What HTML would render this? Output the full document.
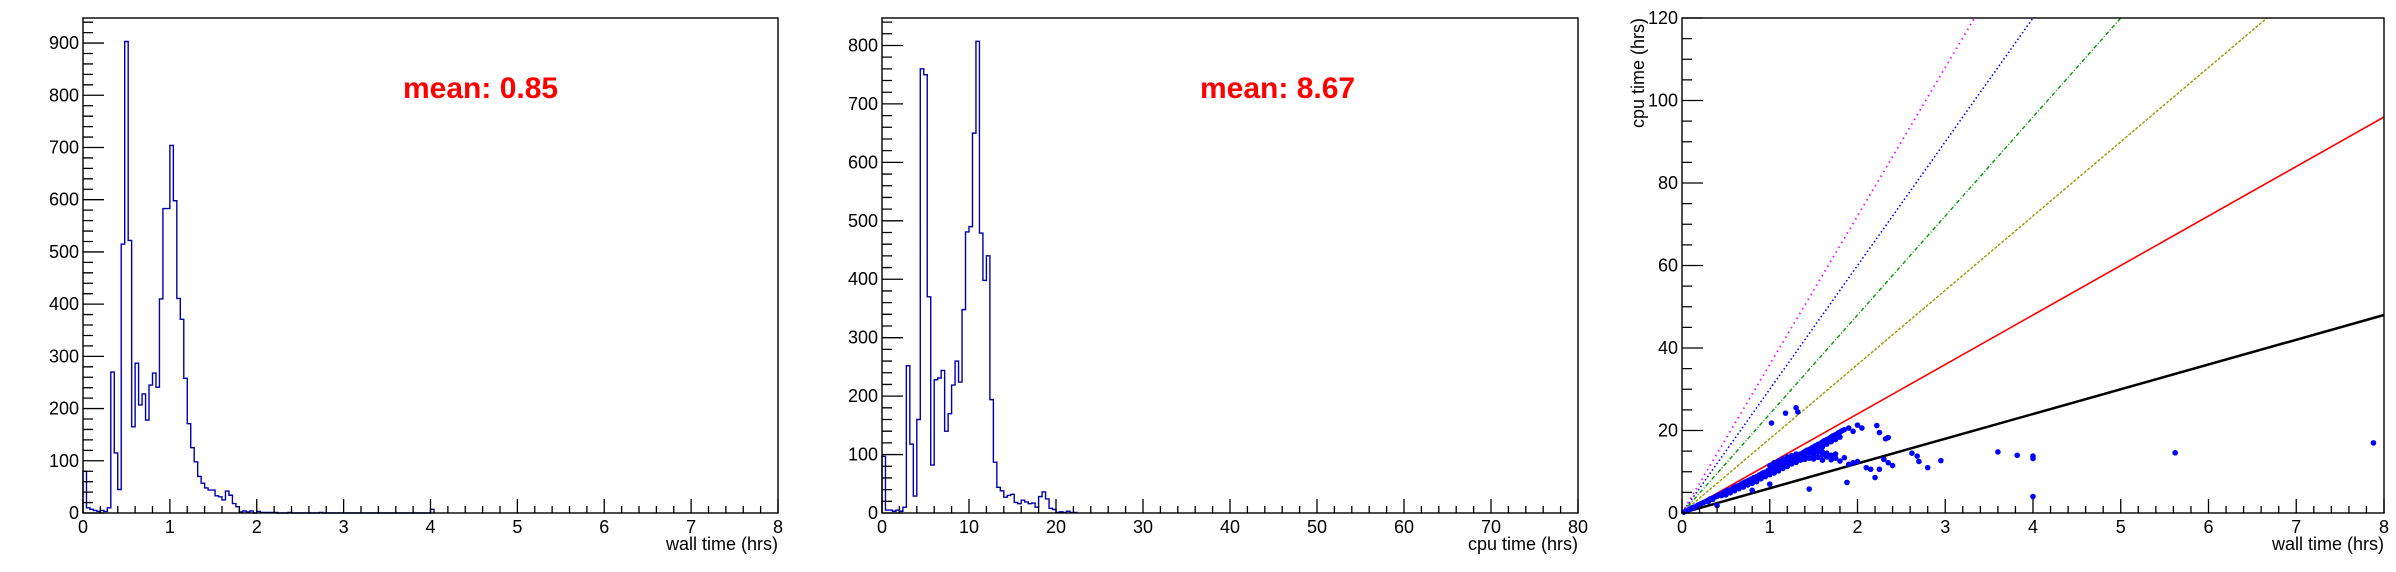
<!DOCTYPE html>
<html><head><meta charset="utf-8"><style>
html,body{margin:0;padding:0;background:#fff;}
svg{display:block;font-family:"Liberation Sans",Arial,sans-serif;}
</style></head><body>
<svg id="s" width="2396" height="572" viewBox="0 0 2396 572" xmlns="http://www.w3.org/2000/svg"></svg>
<script>
// ---- Panel 1: wall time histogram (bins 0.04 h, 0..8) ----
const wallCounts = [80,10,7,5,3,5,3,10,270,115,45,515,903,522,165,287,207,228,178,245,268,241,410,583,583,704,598,411,371,258,171,125,98,70,57,48,44,44,33,31,25,42,34,18,12,2,4,2,4,0,3,1,1,1,1,1,0,0,0,1,0,0,0,0,0,0,0,0,1,0,0,0,0,0,0,0,0,0,0,0,0,0,0,0,0,0,0,0,0,0,0,0,0,0,0,0,0,0,0,0,7];
const wallBinWidth = 0.04;
const wallMean = "mean: 0.85";
const wallXTicks = [0,1,2,3,4,5,6,7,8];
const wallYTicks = [0,100,200,300,400,500,600,700,800,900];
// ---- Panel 2: cpu time histogram (bins 0.4 h, 0..80) ----
const cpuCounts = [97,5,5,3,5,3,10,252,118,29,160,760,750,370,82,228,231,244,140,170,219,260,224,348,481,490,650,807,479,398,440,194,87,44,38,27,30,32,18,16,22,19,16,17,10,28,36,24,8,6,1,2,1,3,1,1];
const cpuBinWidth = 0.4;
const cpuMean = "mean: 8.67";
const cpuXTicks = [0,10,20,30,40,50,60,70,80];
const cpuYTicks = [0,100,200,300,400,500,600,700,800];
// ---- Panel 3: scatter cpu vs wall ----
const scatterWall = [0.02,0.05,0.08,0.1,0.12,0.15,0.18,0.2,0.22,0.25,0.28,0.3,0.32,0.35,0.38,0.4,0.4,0.42,0.45,0.48,0.5,0.5,0.52,0.55,0.55,0.58,0.6,0.6,0.62,0.65,0.65,0.68,0.7,0.7,0.72,0.75,0.75,0.78,0.8,0.8,0.82,0.85,0.85,0.88,0.9,0.9,0.92,0.95,0.95,0.98,1.0,1.0,1.02,1.05,1.05,1.08,1.1,1.1,1.12,1.15,1.15,1.18,1.2,1.2,1.22,1.25,1.25,1.28,1.3,1.3,1.32,1.35,1.35,1.38,1.4,1.4,1.42,1.45,1.45,1.48,1.5,1.5,1.52,1.55,1.55,1.58,1.6,1.6,1.62,1.65,1.65,1.68,1.7,1.7,1.72,1.75,1.75,1.78,1.8,1.8,1.82,1.85,1.85,1.9,1.95,2.0,2.05,2.0,1.9,1.95,2.1,2.15,2.2,2.25,2.22,2.25,2.32,2.35,2.3,2.35,2.4,2.62,2.68,2.7,2.8,2.95,3.6,3.82,4.0,4.0,4.0,5.62,7.88,1.88,1.45,1.3,1.32,1.18,1.02,1.0,0.8,1.1,1.2,1.3,1.4,1.5,1.6,1.25,1.35,1.45,1.55,1.15,0.95,1.05,0.9,
 0.3,0.35,0.45,0.5,0.55,0.6,0.65,0.7,0.75,0.8,0.85,0.9,0.95,1.0,1.05,1.1,1.15,1.2,1.25,1.3,1.35,1.4,1.45,1.5,1.55,1.6,1.65,1.7,1.75,1.8,1.0,1.05,1.1,1.15,1.2,1.25,1.3,1.35,1.4,1.45,1.5,1.55,1.6,1.65,1.7,1.75,1.2,1.3,1.4,1.5,1.6,0.7,0.8,0.9,1.0,1.1,1.2,1.3,1.4,1.5];
const scatterCpu = [0.2,0.5,0.8,1.0,1.3,1.5,1.9,2.1,2.3,2.6,2.9,3.1,3.4,3.6,3.9,4.1,1.8,4.4,4.6,5.0,5.2,4.4,5.5,5.6,4.9,6.0,6.3,5.4,6.5,6.7,5.9,7.1,7.3,6.3,7.5,7.8,6.8,8.1,8.3,7.2,8.6,8.8,7.6,9.2,9.4,8.3,9.7,9.9,8.8,10.3,10.5,9.3,10.8,11.0,9.7,11.4,11.6,10.2,11.9,12.1,10.8,12.5,12.7,11.3,13.0,13.2,11.9,13.6,13.8,12.3,14.1,14.3,12.8,14.6,14.9,13.0,15.2,15.4,13.3,15.8,16.0,13.1,16.3,16.6,13.5,16.9,17.2,12.8,17.5,17.8,13.6,18.1,18.4,12.9,18.7,19.0,13.3,19.4,19.6,12.6,19.9,20.2,13.4,20.6,19.8,21.3,20.6,12.5,11.8,12.2,11.0,10.6,8.6,10.6,21.2,19.5,18.0,18.3,13.0,12.2,11.5,14.5,13.8,12.5,11.0,12.7,14.8,14.0,13.8,13.2,4.0,14.6,17.0,7.4,5.8,25.5,24.5,24.2,21.8,7.0,5.5,11.0,12.0,13.0,14.0,15.0,16.0,12.5,13.5,14.5,15.5,11.5,9.5,10.0,9.0,
 2.8,3.3,4.2,4.7,5.2,5.8,6.2,6.8,7.2,7.8,8.2,8.8,9.2,9.8,10.2,10.8,11.3,11.8,12.4,12.9,13.5,14.0,14.5,15.1,15.6,16.2,16.7,17.3,17.8,18.4,11.5,12.2,12.6,13.1,13.6,13.9,14.3,14.0,14.2,14.6,14.4,14.8,14.1,14.5,14.0,14.3,12.0,12.7,13.4,14.0,14.8,6.9,7.8,8.7,9.6,10.5,11.4,12.3,13.2,14.1];
const refSlopes = [6,12,18,24,30,36];
const refColors = ["#000000","#ff0000","#999900","#009900","#0000ff","#ff00ff"];
const refDash = ["none","none","3,1.5","4,2,1,2","1.5,2.5","1.5,4"];
const refWidths = [2.5,1.6,1.4,1.4,1.6,1.8];
const scXTicks = [0,1,2,3,4,5,6,7,8];
const scYTicks = [0,20,40,60,80,100,120];

const S = document.getElementById('s');
const NS = "http://www.w3.org/2000/svg";
function mk(tag, attrs, parent){ const e=document.createElementNS(NS,tag); for(const k in attrs) e.setAttribute(k,attrs[k]); (parent||S).appendChild(e); return e; }

function panel(cfg){
  const g = mk('g',{});
  
  
  const L=cfg.l,R=cfg.r,T=18,B=513;
  const sx = v => L + (v-cfg.x0)/(cfg.x1-cfg.x0)*(R-L);
  const sy = v => B - (v-cfg.y0)/(cfg.y1-cfg.y0)*(B-T);
  cfg.draw(g,sx,sy);
  const fr = mk('rect',{x:L,y:T,width:R-L,height:B-T,fill:'none',stroke:'#000','stroke-width':1.4},g);
  
  
  const xt = mk('g',{},g);
  
  
  let d='';
  const xs=cfg.xTicks, xstep=xs[1]-xs[0];
  for(let i=0;i<xs.length;i++){
    d+=`M${sx(xs[i])},${B}v-14`;
    if(i<xs.length-1) for(let m=1;m<5;m++) d+=`M${sx(xs[i]+xstep*m/5)},${B}v-7`;
    const t=mk('text',{x:sx(xs[i]),y:B+20,'font-size':18,'text-anchor':'middle',fill:'#000'},xt);
    t.textContent=xs[i];
    
    
  }
  mk('path',{d:d,stroke:'#000','stroke-width':1.3,fill:'none'},xt);
  const xtl=mk('text',{x:R,y:B+37,'font-size':18,'text-anchor':'end',fill:'#000'},xt);
  xtl.textContent=cfg.xTitle;
  
  
  const yt = mk('g',{},g);
  
  
  d='';
  const ys=cfg.yTicks, ystep=ys[1]-ys[0];
  for(let i=0;i<ys.length;i++){
    d+=`M${L},${sy(ys[i])}h21`;
    for(let m=1;m<cfg.yMinor;m++){const v=ys[i]+ystep*m/cfg.yMinor; if(v<=cfg.y1) d+=`M${L},${sy(v)}h10`;}
    const t=mk('text',{x:L-4,y:sy(ys[i])+6,'font-size':18,'text-anchor':'end',fill:'#000'},yt);
    t.textContent=ys[i];
    
    
  }
  mk('path',{d:d,stroke:'#000','stroke-width':1.3,fill:'none'},yt);
  if(cfg.yTitle){
    const yl=mk('text',{x:0,y:0,'font-size':18,'text-anchor':'end',fill:'#000',transform:`translate(${L-38},${T}) rotate(-90)`},yt);
    yl.textContent=cfg.yTitle;
    
    
  }
}

function histDraw(counts,bw,meanText,meanX){
  return function(g,sx,sy){
    let d=`M${sx(0)},${sy(0)}`;
    for(let i=0;i<counts.length;i++){ d+=`V${sy(counts[i])}H${sx((i+1)*bw)}`; }
    d+=`V${sy(0)}`;
    const p=mk('path',{d:d,fill:'none',stroke:'#0000aa','stroke-width':1.4},g);
    
    
    const t=mk('text',{x:meanX,y:98,'font-size':30,'font-weight':'bold',fill:'#ff0000'},g);
    t.textContent=meanText;
    
    
  };
}

panel({name:'wall-time-histogram',l:83,r:778,x0:0,x1:8,y0:0,y1:948,xTicks:wallXTicks,yTicks:wallYTicks,yMinor:5,xTitle:'wall time (hrs)',
  draw:histDraw(wallCounts,wallBinWidth,wallMean,403)});
panel({name:'cpu-time-histogram',l:882,r:1578,x0:0,x1:80,y0:0,y1:847,xTicks:cpuXTicks,yTicks:cpuYTicks,yMinor:5,xTitle:'cpu time (hrs)',
  draw:histDraw(cpuCounts,cpuBinWidth,cpuMean,1200)});
panel({name:'cpu-vs-wall-scatter',l:1682,r:2384,x0:0,x1:8,y0:0,y1:120,xTicks:scXTicks,yTicks:scYTicks,yMinor:4,xTitle:'wall time (hrs)',yTitle:'cpu time (hrs)',
  draw:function(g,sx,sy){
    const lg=mk('g',{},g);
    
    
    for(let i=0;i<refSlopes.length;i++){
      const xe=Math.min(8,120/refSlopes[i]);
      const a={x1:sx(0),y1:sy(0),x2:sx(xe),y2:sy(refSlopes[i]*xe),stroke:refColors[i],'stroke-width':refWidths[i]};
      if(refDash[i]!=='none') a['stroke-dasharray']=refDash[i];
      const ln=mk('line',a,lg);
      
      
    }
    const pg=mk('g',{fill:'#0000ff'},g);
    
    
    for(let i=0;i<scatterWall.length;i++){
      const c=mk('circle',{cx:sx(scatterWall[i]),cy:sy(scatterCpu[i]),r:2.8},pg);
      
      
    }
  }});
</script>
</body></html>
